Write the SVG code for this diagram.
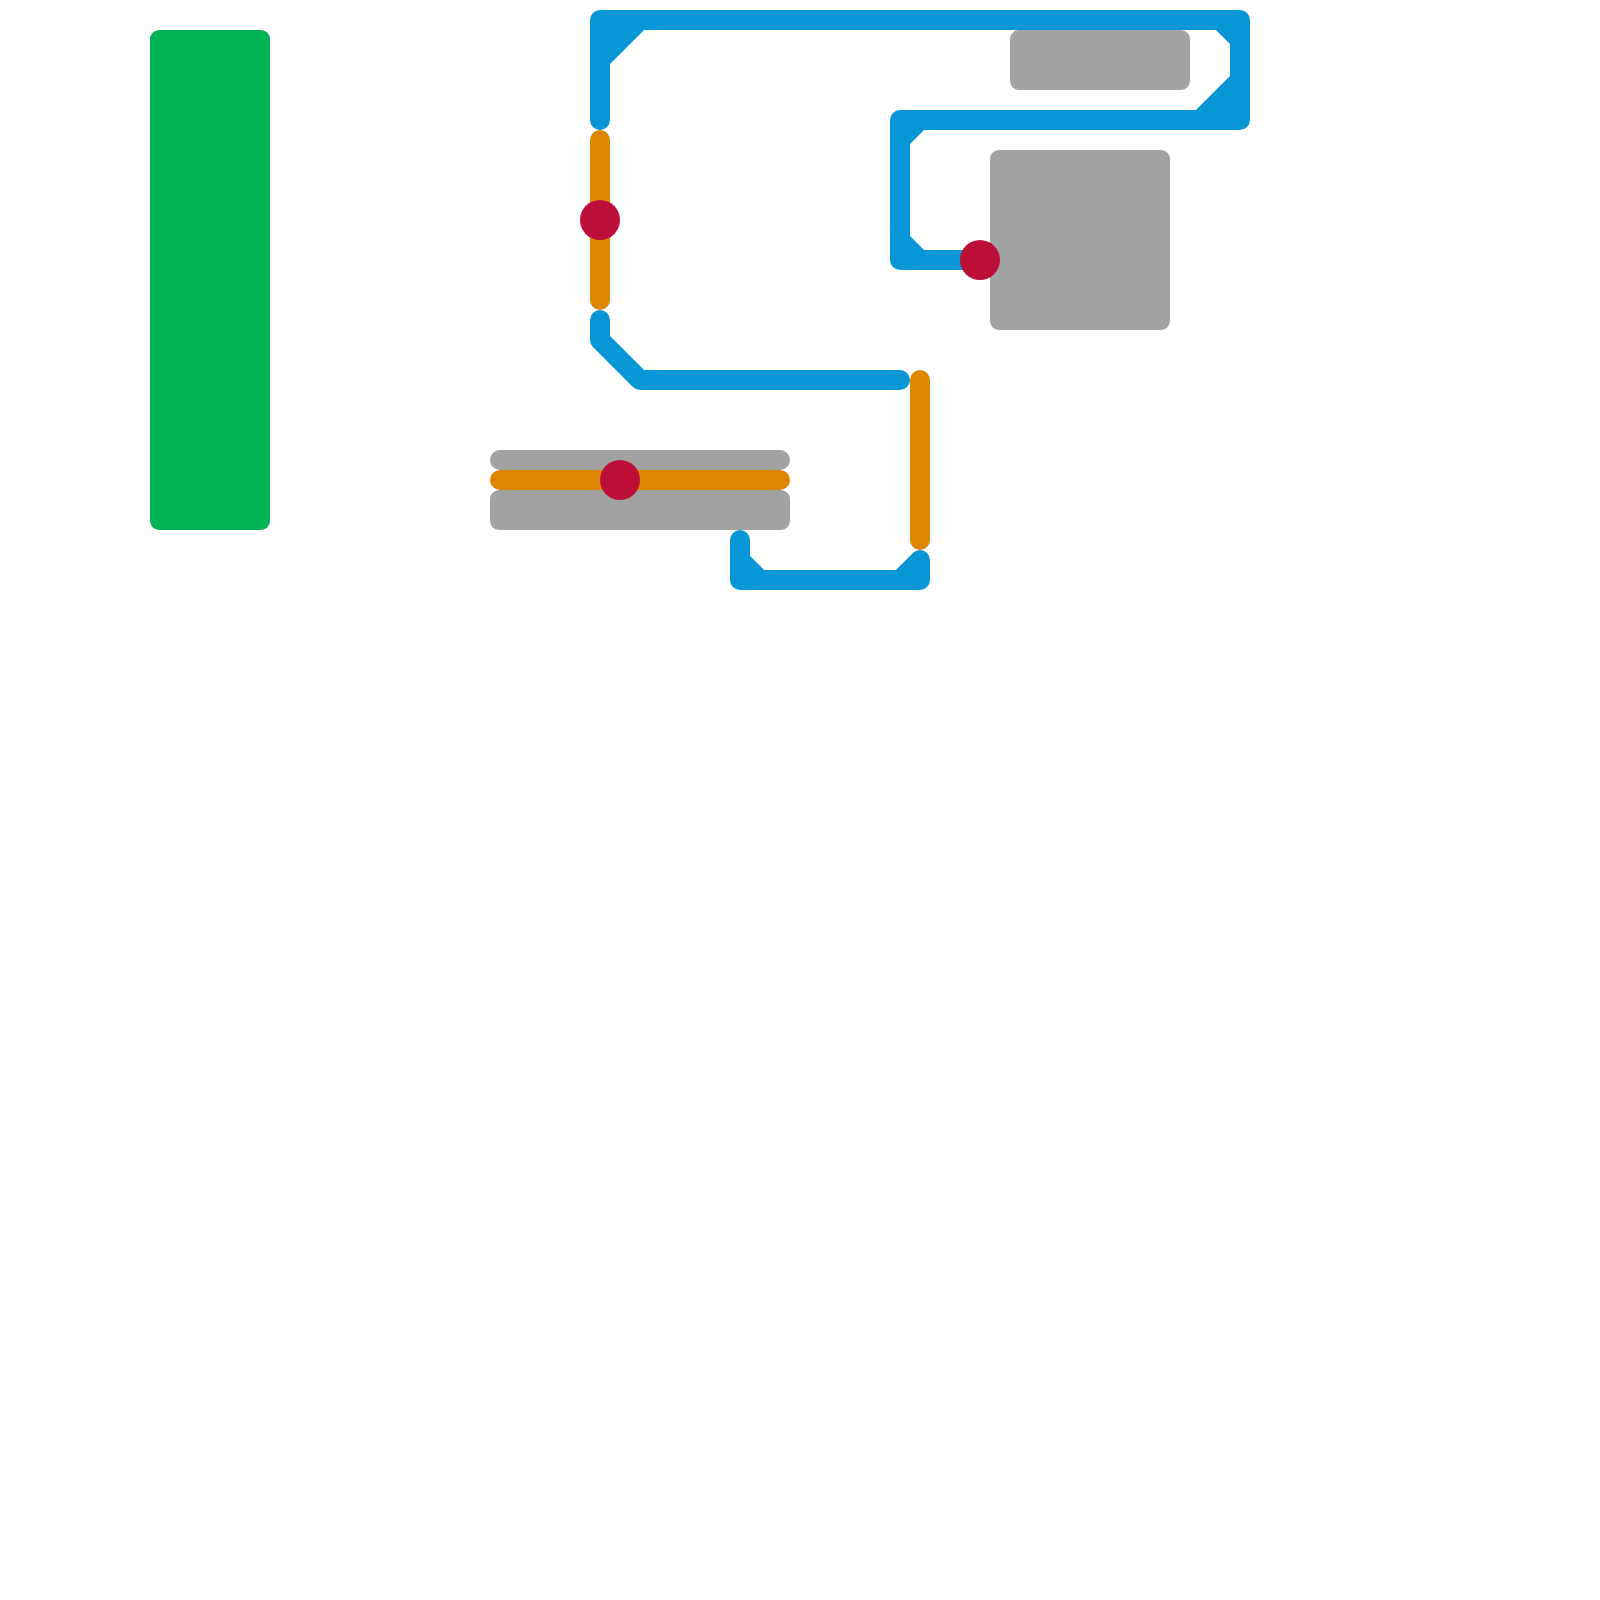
<svg xmlns="http://www.w3.org/2000/svg" width="1600" height="1600" viewBox="0 0 1600 1600">
<style>
.line{fill:none;stroke-width:20;stroke-linecap:round;stroke-linejoin:round}
.blue{stroke:#0896d7}
.orange{stroke:#df8600}
.gray-line{stroke:#a2a2a2}
.gray{fill:#a2a2a2}
.green{fill:#00b251}
.stop{fill:#bd1038}
.fillblue{fill:#0896d7}
</style>
<rect width="1600" height="1600" fill="#ffffff"/>
<g id="areas">
<rect id="area-green" class="green" x="150" y="30" width="120" height="500" rx="9"/>
<rect id="area-gray-top" class="gray" x="1010" y="30" width="180" height="60" rx="9"/>
<rect id="area-gray-mid" class="gray" x="990" y="150" width="180" height="180" rx="9"/>
<rect id="area-gray-low" class="gray" x="490" y="490" width="300" height="40" rx="9"/>
<path id="area-gray-strip" class="line gray-line" d="M500 460H780"/>
</g>
<g id="connectors">
<path class="fillblue" d="M600 60L640 20H600ZM1240 80L1200 120H1240Z"/>
<path class="line blue" d="M600 120V20H1240V120H900V260H980"/>
<path class="line blue" d="M600 60L640 20M1220 20L1240 40M1240 80L1200 120M900 140L920 120M900 240L920 260"/>
<path class="line blue" d="M600 320V340L640 380H900"/>
<path class="line blue" d="M740 540V580H920V560M740 560L760 580M920 560L900 580"/>
<path class="line orange" d="M600 140V300"/>
<path class="line orange" d="M920 380V540"/>
<path class="line orange" d="M500 480H780"/>
</g>
<g id="stop-1"><circle class="stop" cx="600" cy="220" r="20"/></g>
<g id="stop-2"><circle class="stop" cx="980" cy="260" r="20"/></g>
<g id="stop-3"><circle class="stop" cx="620" cy="480" r="20"/></g>
</svg>
